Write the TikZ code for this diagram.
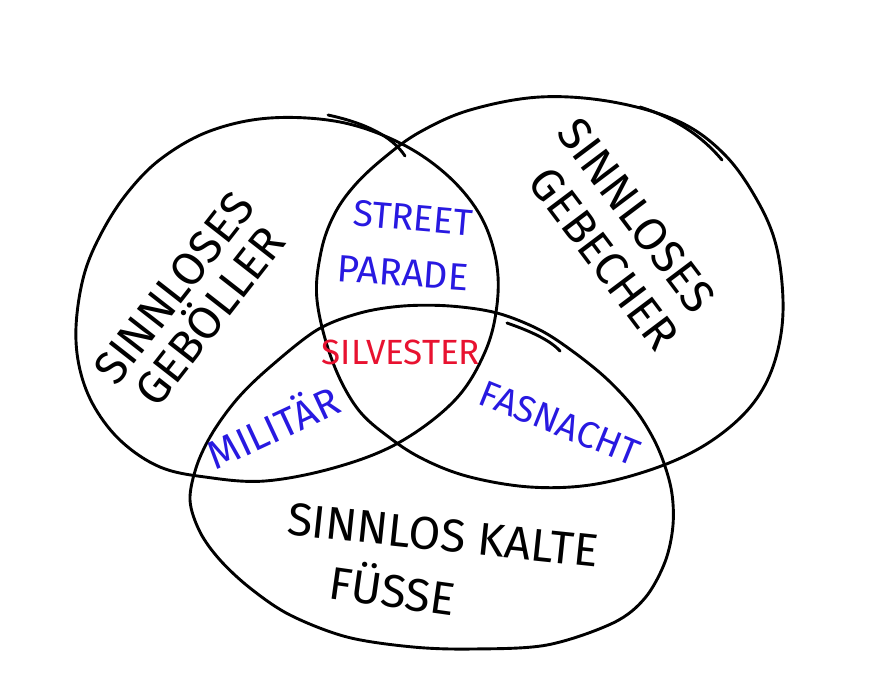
\documentclass[tikz,border=0pt]{standalone}
\usepackage{fontspec}
\setmainfont{Fira Sans}
\definecolor{penblue}{RGB}{40,25,225}
\definecolor{penred}{RGB}{232,18,48}
\begin{document}
\begin{tikzpicture}[x=1pt,y=-1pt,
  outline/.style={line width=2.9pt, line cap=round, line join=round, black},
  biglabel/.style={font=\fontsize{46}{46}\selectfont, inner sep=0pt, text=black, align=center},
  bluelabel/.style={font=\fontsize{37}{40}\selectfont, inner sep=0pt, text=penblue},
  redlabel/.style={font=\fontsize{35}{40}\selectfont, inner sep=0pt, text=penred}]
\useasboundingbox (0,0) rectangle (873,698);
\fill[white] (0,0) rectangle (873,698);
% left set
\draw[outline] plot[smooth cycle, tension=0.6] coordinates {
 (76,327) (84,275) (102,232) (128,192) (162,158) (210,131) (270,118)
 (340,122) (400,143) (447,175) (480,215) (496,260) (497,305) (485,352)
 (455,400) (400,442) (337,467) (265,481) (205,477) (160,467) (122,442)
 (95,408) (80,370)};
\draw[outline] (328,115) .. controls (365,123) and (392,136) .. (405,156);
% right set
\draw[outline] plot[smooth cycle, tension=0.6] coordinates {
 (317,300) (321,252) (334,215) (355,185) (385,157) (420,132) (470,110)
 (540,97) (613,102) (680,122) (725,155) (757,200) (776,245) (783,300)
 (779,345) (765,385) (740,418) (700,448) (650,470) (590,485) (530,487)
 (470,477) (425,460) (390,438) (357,408) (332,360)};
\draw[outline] (640,107) .. controls (675,118) and (702,136) .. (722,160);
% bottom set
\draw[outline] plot[smooth cycle, tension=0.55] coordinates {
 (190,500) (197,465) (213,432) (238,398) (270,367) (317,330) (360,313)
 (403,306) (450,306) (497,313) (540,330) (575,353) (608,380) (637,412)
 (658,448) (671,488) (673,525) (665,562) (645,598) (613,623) (547,645)
 (473,649) (413,647) (347,637) (290,615) (250,588) (220,560) (200,532)};
\draw[outline] (507,323) .. controls (530,331) and (550,340) .. (560,351);
% labels
\node[biglabel, rotate=52] (gebl) at (192,302) {SINNLOSES\\GEBÖLLER};
\node[biglabel, rotate=-53] (gebr) at (616,231) {SINNLOSES\\[6pt]\hspace*{30pt}GEBECHER};
\node[biglabel, rotate=-6] (b1) at (443,535) {SINNLOS KALTE};
\node[biglabel, rotate=-8] (b2) at (393,587) {FÜSSE};
\node[bluelabel, rotate=-5] (s1) at (413,218) {STREET};
\node[bluelabel, font=\fontsize{38}{40}\selectfont, rotate=-4] (s2) at (403,273) {PARADE};
\node[redlabel] (sil) at (401,352) {SILVESTER};
\node[bluelabel, font=\fontsize{40}{40}\selectfont, rotate=25] (mil) at (272,425) {MILITÄR};
\node[bluelabel, rotate=-22] (fas) at (560,423) {FASNACHT};
\end{tikzpicture}
\end{document}
